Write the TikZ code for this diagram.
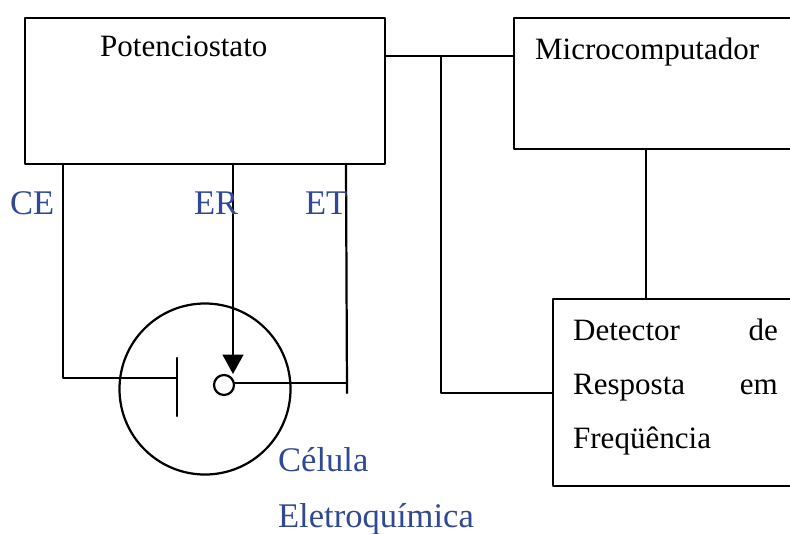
\documentclass[tikz,border=0pt]{standalone}
\usepackage{fontspec}
\setmainfont{Liberation Serif}
\usetikzlibrary{arrows.meta}
\definecolor{labelblue}{RGB}{48,72,150}
\tikzset{
  box/.style={draw, rectangle, inner sep=0pt, outer sep=0pt},
  boxtext/.style={anchor=base west, inner sep=0pt, font=\fontsize{26.5}{30}\selectfont},
  bluetext/.style={anchor=base west, inner sep=0pt, text=labelblue, font=\fontsize{29.5}{33}\selectfont}
}
\begin{document}
\begin{tikzpicture}[line width=1.9pt, line cap=round, line join=round, >=Stealth, x=0.3mm, y=-0.3mm]
  \clip (0,0) rectangle (790,533);
  % Instrument boxes (the right two run off the page).
  \node[box, minimum width=108mm, minimum height=43.8mm] (pot) at (205,91) {};
  \node[box, minimum width=85.8mm, minimum height=39.3mm] (micro) at (657,83.5) {};
  \node[box, minimum width=74.1mm, minimum height=56.1mm] (det) at (676.5,392.5) {};
  \node[boxtext] (potText) at (99,56) {Potenciostato};
  \node[boxtext] (microText) at (534,59) {Microcomputador};
  \node[boxtext] (detA) at (572,340) {Detector};
  \node[boxtext, anchor=base east] (detB) at (779,340) {de};
  \node[boxtext] (detC) at (572,394) {Resposta};
  \node[boxtext, anchor=base east] (detD) at (779,394) {em};
  \node[boxtext] (detE) at (572,448) {Freqüência};
  % Cell and its electrodes.
  \node[draw, circle, inner sep=0pt, outer sep=0pt, minimum size=51.3mm] (cell) at (205,389) {};
  \node[draw, circle, inner sep=0pt, outer sep=0pt, minimum size=6mm] (ref) at (224,385) {};
  \coordinate (plateTop) at (177,358);
  \coordinate (plateBot) at (177,416);
  \coordinate (plateMid) at (177,378);
  \coordinate (ceTop) at (63,164);
  \coordinate (erTop) at (233,164);
  \coordinate (erTip) at (233,374);
  \coordinate (etTop) at (346,164);
  \coordinate (etEnd) at (347,393);
  \coordinate (etJoin) at (347,383);
  \draw (plateTop) -- (plateBot);
  \draw (ceTop) |- (plateMid);
  \draw[-{Triangle[length=5.8mm, width=6.2mm]}] (erTop) -- (erTip);
  \draw (etTop) -- (etEnd);
  \draw (ref.east |- etJoin) -- (etJoin);
  % Bus between the boxes.
  \coordinate (busTop) at (441,56);
  \coordinate (busBot) at (441,393);
  \coordinate (microOut) at (646,149);
  \draw (busTop -| pot.east) -- (busTop -| micro.west);
  \draw (busTop) -- (busBot) -- (busBot -| det.west);
  \draw (microOut) -- (microOut |- det.north);
  % Blue labels.
  \node[bluetext] (ce) at (9,214) {CE};
  \node[bluetext] (er) at (193,214) {ER};
  \node[bluetext] (et) at (304,214) {ET};
  \node[bluetext] (celA) at (277,471) {Célula};
  \node[bluetext] (celB) at (277,527) {Eletroquímica};
\end{tikzpicture}
\end{document}
